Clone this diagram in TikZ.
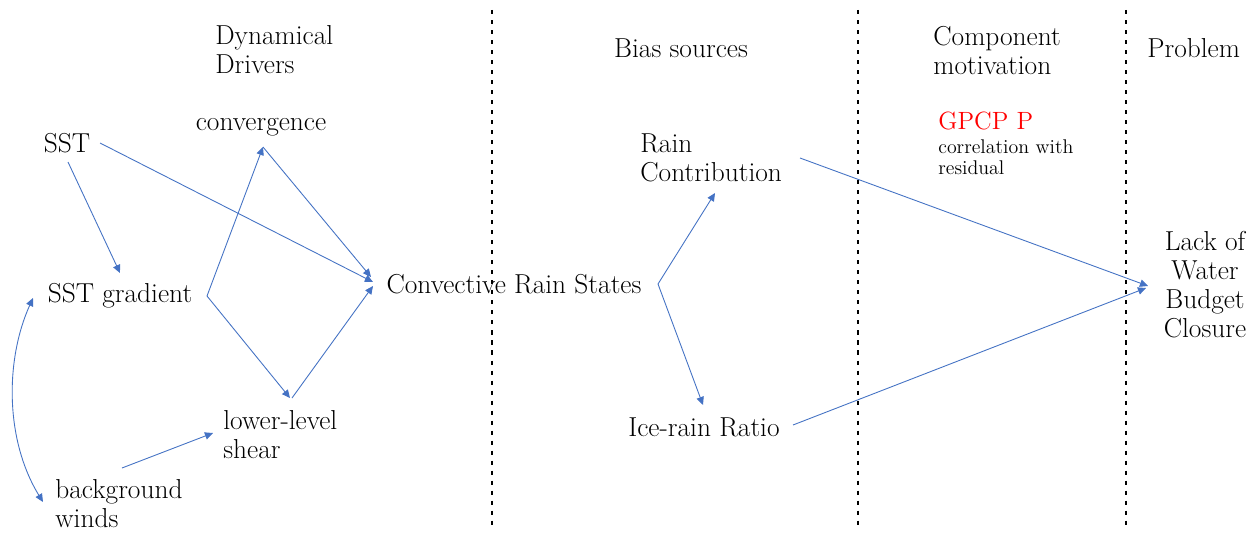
\documentclass[tikz,border=0pt]{standalone}
\usepackage{fontspec}
\usetikzlibrary{arrows.meta,calc}
\definecolor{arrowblue}{HTML}{4472C4}
\definecolor{gpcpred}{HTML}{FF0000}
\tikzset{
  lbl/.style={inner sep=0pt, font=\fontsize{15.6}{16.5}\selectfont},
  redlbl/.style={inner sep=0pt, text=gpcpred, font=\fontsize{14.2}{16.5}\selectfont},
  small/.style={inner sep=0pt, font=\fontsize{11.3}{12}\selectfont},
  conn/.style={draw=arrowblue, line width=0.5pt, -{Triangle[length=4.6pt,width=4.2pt]}},
  both/.style={draw=arrowblue, line width=0.5pt, {Triangle[length=4.6pt,width=4.2pt]}-{Triangle[length=4.6pt,width=4.2pt]}},
  divider/.style={draw=black, line width=1.1pt, dash pattern=on 2.3pt off 3.4pt}
}
\begin{document}
\begin{tikzpicture}[x=0.02cm, y=-0.02cm]
\useasboundingbox (0,0) rectangle (1257,537);
\fill[white] (0,0) rectangle (1257,537);

% dividers
\coordinate (d1t) at (492,10); \coordinate (d1b) at (492,530);
\coordinate (d2t) at (858,10); \coordinate (d2b) at (858,530);
\coordinate (d3t) at (1126,10); \coordinate (d3b) at (1126,530);
\draw[divider] (d1t) -- (d1b);
\draw[divider] (d2t) -- (d2b);
\draw[divider] (d3t) -- (d3b);

% headers
\node[lbl, anchor=west, align=left] (hdd) at (215,50) {Dynamical\\Drivers};
\node[lbl] (hbs) at (681,48) {Bias sources};
\node[lbl, anchor=west, align=left] (hcm) at (933,51) {Component\\motivation};
\node[lbl, anchor=west] (hpr) at (1147,48) {Problem};

% nodes
\node[lbl] (sst) at (67,143) {SST};
\node[lbl] (convg) at (261,127) {convergence};
\node[lbl] (sstgrad) at (120,296) {SST gradient};
\node[lbl, anchor=west, align=left] (shear) at (223,435) {lower-level\\shear};
\node[lbl, anchor=west, align=left] (bgw) at (55,504) {background\\winds};
\node[lbl] (conv) at (514,284) {Convective Rain States};
\node[lbl, anchor=west, align=left] (rain) at (640,158) {Rain\\Contribution};
\node[lbl] (ice) at (704,427) {Ice-rain Ratio};
\node[redlbl, anchor=west] (gpcp) at (938,121) {GPCP P};
\node[small, anchor=west, align=left] (corr) at (938,157) {correlation with\\residual};
\node[lbl, align=center] (lack) at (1205,285) {Lack of\\Water\\Budget\\Closure};

% connectors
\draw[conn] ($(sst.center)+(33,0)$) -- ($(conv.center)+(-141,-2)$);
\draw[conn] ($(convg.center)+(2,20)$) -- ($(conv.center)+(-143,-7)$);
\draw[conn] ($(sst.center)+(1,19)$) -- ($(sstgrad.center)+(0,-23)$);
\draw[conn] ($(sstgrad.center)+(87,0)$) -- ($(convg.center)+(2,20)$);
\draw[conn] ($(sstgrad.center)+(87,0)$) -- ($(shear.west)+(67,-37)$);
\draw[conn] ($(shear.west)+(69,-37)$) -- ($(conv.center)+(-141,2)$);
\draw[conn] ($(bgw.west)+(67,-36)$) -- ($(shear.west)+(-10,-2)$);
\draw[both] ($(sstgrad.center)+(-87,2)$) .. controls (5,360) and (5,440) .. ($(bgw.west)+(-12,-2)$);
\draw[conn] ($(conv.center)+(144,0)$) -- ($(rain.west)+(75,35)$);
\draw[conn] ($(conv.center)+(144,0)$) -- ($(ice.center)+(-1,-22)$);
\draw[conn] ($(rain.west)+(160,0)$) -- ($(lack.center)+(-57,1)$);
\draw[conn] ($(ice.center)+(89,-2)$) -- ($(lack.center)+(-59,3)$);
\end{tikzpicture}
\end{document}
